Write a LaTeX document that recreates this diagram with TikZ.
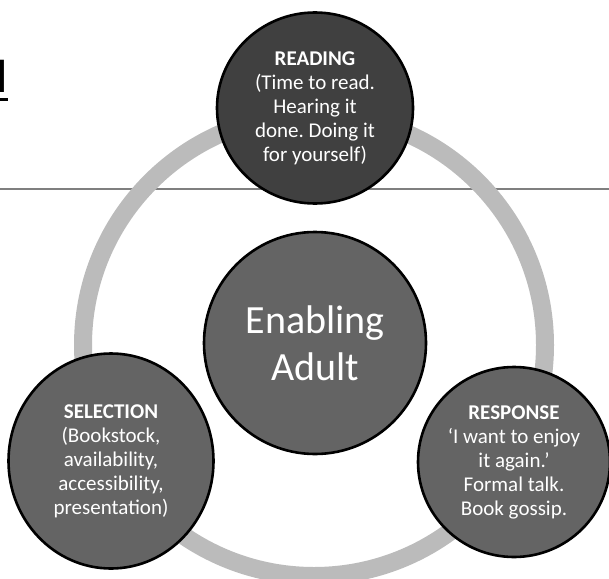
\documentclass[tikz,border=0pt]{standalone}
\usepackage{fontspec}
\setmainfont{Carlito}
\usetikzlibrary{shapes.geometric}
\definecolor{ringgray}{HTML}{BBBBBB}
\definecolor{darkfill}{HTML}{404040}
\definecolor{midfill}{HTML}{646464}
\definecolor{rulegray}{HTML}{7F7F7F}
\tikzset{
  bubble/.style={ellipse, draw=black, line width=2.6pt, text=white, align=center, inner sep=0pt},
  small/.style={font=\fontsize{21}{24}\selectfont},
}
\frenchspacing
\begin{document}
\begin{tikzpicture}[x=1pt,y=-1pt]
\useasboundingbox (0,0) rectangle (609,578);
% title fragment
\node[anchor=base east, inner sep=0pt, font=\fontsize{46}{46}\selectfont\bfseries] (title) at (7,92) {d};
\coordinate (ulA) at (-20,99.5);
\coordinate (ulB) at (8,99.5);
\draw[line width=3pt] (ulA) -- (ulB);
% rule
\coordinate (ruleA) at (0,189);
\coordinate (ruleB) at (609,189);
\draw[rulegray, line width=1.6pt] (ruleA) -- (ruleB);
% ring
\coordinate (ringc) at (314,345);
\draw[ringgray, line width=18pt] (ringc) circle[radius=231];
% circles
\node[bubble, fill=darkfill, minimum width=196pt, minimum height=191pt, small] (reading) at (315,108)
  {\textbf{READING}\\(Time to read.\\Hearing it\\done. Doing it\\for yourself)};
\node[bubble, fill=midfill, minimum width=222pt, minimum height=222pt, font=\fontsize{40}{47}\selectfont] (center) at (315,343)
  {Enabling\\Adult};
\node[bubble, fill=midfill, minimum width=205pt, minimum height=215pt, small] (selection) at (111,461)
  {\textbf{SELECTION}\\(Bookstock,\\availability,\\accessibility,\\presentation)};
\node[bubble, fill=midfill, minimum width=192pt, minimum height=190pt, small] (response) at (514,462)
  {\textbf{RESPONSE}\\‘I want to enjoy\\it again.’\\Formal talk.\\Book gossip.};
\end{tikzpicture}
\end{document}
